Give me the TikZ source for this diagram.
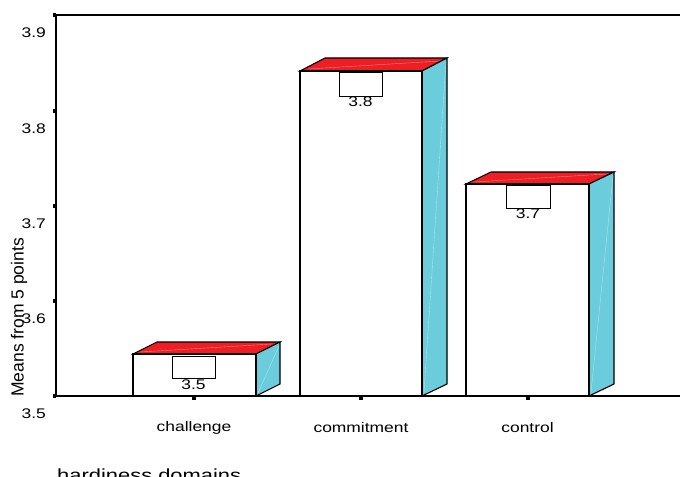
\documentclass[tikz,border=0pt]{standalone}
\usepackage{graphicx}
\usepackage{fontspec}
\setmainfont{Liberation Sans}
\definecolor{topred}{RGB}{237,30,36}
\definecolor{sidecyan}{RGB}{107,205,219}
\newcommand\stx[1]{\scalebox{1.25}[1]{#1}}
\tikzset{
  axisline/.style={line width=1.3bp, black},
  frameline/.style={line width=1.1bp, black},
  barline/.style={line width=1.1bp, black, line join=miter},
  topface/.style={barline, fill=topred},
  sideface/.style={barline, fill=sidecyan},
  frontface/.style={barline, fill=white},
  innerbox/.style={line width=0.9bp, black, fill=white},
  glint/.style={white, line width=0.4bp, opacity=0.45},
  ticksq/.style={fill=black, minimum size=3.5bp, inner sep=0pt, draw=none},
  lbl/.style={font=\fontsize{14}{14}\selectfont, inner sep=0pt},
}
\begin{document}
\begin{tikzpicture}[x=1bp,y=-1bp]
\useasboundingbox (0,0) rectangle (680,477);
\clip (0,0) rectangle (680,477);
\fill[white] (0,0) rectangle (680,477);

% axes
\coordinate (tl) at (56,15);
\coordinate (tr) at (680,15);
\coordinate (bl) at (56,396);
\coordinate (br) at (680,396);
\draw[frameline] (tl) -- (tr);
\draw[axisline] (tl) -- (bl);

% bars: challenge
\draw[topface] (133,354) -- (157,342) -- (280,342) -- (256,354) -- cycle;
\draw[glint] (140,352) -- (272,344);
\draw[sideface] (256,354) -- (280,342) -- (280,384) -- (256,396) -- cycle;
\draw[glint] (258,393) -- (279,346);
\draw[frontface] (133,396) rectangle (256,354);
\draw[innerbox] (172,356) rectangle (215,378);
\node[lbl] (v1) at (193.5,385) {\stx{3.5}};

% bars: commitment
\draw[topface] (300,71) -- (325,58) -- (447,58) -- (422,71) -- cycle;
\draw[glint] (308,69) -- (440,61);
\draw[sideface] (422,71) -- (447,58) -- (447,384) -- (422,396) -- cycle;
\draw[glint] (424,392) -- (446,62);
\draw[frontface] (300,396) rectangle (422,71);
\draw[innerbox] (339,72) rectangle (382,96);
\node[lbl] (v2) at (360.5,102) {\stx{3.8}};

% bars: control
\draw[topface] (466,184) -- (491,172) -- (614,172) -- (589,184) -- cycle;
\draw[glint] (474,182) -- (606,174);
\draw[sideface] (589,184) -- (614,172) -- (614,384) -- (589,396) -- cycle;
\draw[glint] (591,392) -- (613,176);
\draw[frontface] (466,396) rectangle (589,184);
\draw[innerbox] (506,185) rectangle (550,208);
\node[lbl] (v3) at (528,214) {\stx{3.7}};

% baseline
\draw[axisline] (bl) -- (br);

% y ticks and labels
\foreach \yy/\tt [count=\i] in {15/3.9,111/3.8,206/3.7,301/3.6,396/3.5}{
  \node[ticksq] (yt\i) at (54.3,\yy) {};
  \node[lbl, anchor=east] (yl\i) at (46,\yy+18) {\stx{\tt}};
}
% x ticks
\node[ticksq] (xt1) at (194,398.3) {};
\node[ticksq] (xt2) at (361,398.3) {};
\node[ticksq] (xt3) at (528,398.3) {};

% category labels
\node[lbl] (c1) at (194,428) {\stx{challenge}};
\node[lbl] (c2) at (361,428) {\stx{commitment}};
\node[lbl] (c3) at (527.5,428) {\stx{control}};

% axis titles
\node[font=\fontsize{17.6}{17.6}\selectfont, inner sep=0pt, rotate=90, anchor=base west] (ytitle) at (23.5,397) {Means from 5 points};
\node[font=\fontsize{17.6}{17.6}\selectfont, inner sep=0pt, anchor=base west] (xtitle) at (57,481) {\stx{hardiness domains}};
\end{tikzpicture}
\end{document}
